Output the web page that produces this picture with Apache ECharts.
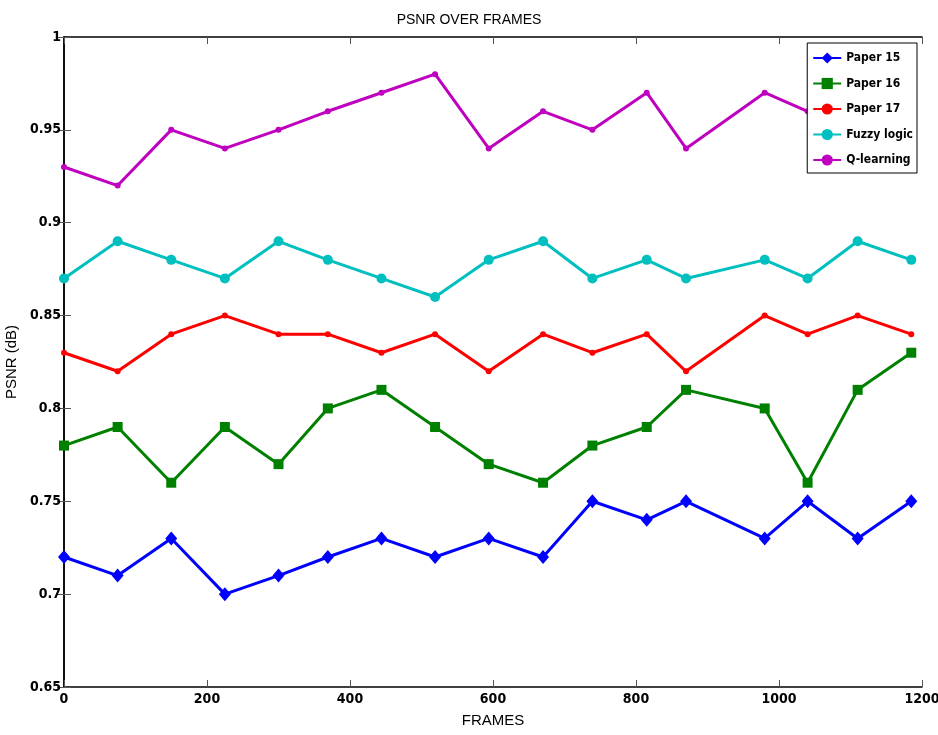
<!DOCTYPE html>
<html>
<head>
<meta charset="utf-8">
<script src="https://cdn.jsdelivr.net/npm/echarts@6/dist/echarts.min.js"></script>
<style>
  html, body { margin: 0; padding: 0; background: #fff; }
  #chart { width: 938px; height: 735px; }
</style>
</head>
<body>
<div id="chart"></div>
<script>
// Frame numbers at which PSNR was sampled
const frames = [0, 75, 150, 225, 300, 369, 444, 519, 594, 670, 739, 815, 870, 980, 1040, 1110, 1185];

const paper15   = [0.72, 0.71, 0.73, 0.70, 0.71, 0.72, 0.73, 0.72, 0.73, 0.72, 0.75, 0.74, 0.75, 0.73, 0.75, 0.73, 0.75];
const paper16   = [0.78, 0.79, 0.76, 0.79, 0.77, 0.80, 0.81, 0.79, 0.77, 0.76, 0.78, 0.79, 0.81, 0.80, 0.76, 0.81, 0.83];
const paper17   = [0.83, 0.82, 0.84, 0.85, 0.84, 0.84, 0.83, 0.84, 0.82, 0.84, 0.83, 0.84, 0.82, 0.85, 0.84, 0.85, 0.84];
const fuzzy     = [0.87, 0.89, 0.88, 0.87, 0.89, 0.88, 0.87, 0.86, 0.88, 0.89, 0.87, 0.88, 0.87, 0.88, 0.87, 0.89, 0.88];
const qlearning = [0.93, 0.92, 0.95, 0.94, 0.95, 0.96, 0.97, 0.98, 0.94, 0.96, 0.95, 0.97, 0.94, 0.97, 0.96, 0.97, 0.96];

const xTicks = [0, 200, 400, 600, 800, 1000, 1200];
const yTicks = [0.65, 0.7, 0.75, 0.8, 0.85, 0.9, 0.95, 1];

const narrow = '"Liberation Sans Narrow", "DejaVu Sans Condensed", "Arial Narrow", sans-serif';
const tickFont = { fontFamily: narrow, fontWeight: 'bold', fontSize: 14, color: '#000' };

function pairs(vals) { return frames.map((f, i) => [f, vals[i]]); }

function lineSeries(name, vals, color, symbol, size) {
  return {
    name: name,
    type: 'line',
    data: pairs(vals),
    symbol: symbol,
    symbolSize: size,
    showAllSymbol: true,
    lineStyle: { color: color, width: 3 },
    itemStyle: { color: color },
    emphasis: { disabled: true },
    animation: false
  };
}

const chart = echarts.init(document.getElementById('chart'), null, { renderer: 'canvas' });

const axisLineStyle = { lineStyle: { color: '#000', width: 1.5 } };
const innerTicks = { show: true, inside: true, length: 7, lineStyle: { color: '#555', width: 1 } };

chart.setOption({
  backgroundColor: '#fff',
  animation: false,
  title: {
    text: 'PSNR OVER FRAMES',
    left: 'center',
    top: 8,
    textStyle: { fontFamily: 'Liberation Sans', fontWeight: 'normal', fontSize: 14, color: '#000' }
  },
  legend: {
    orient: 'vertical',
    right: 21,
    top: 43,
    padding: [9, 4, 7, 5],
    itemWidth: 28,
    itemHeight: 14,
    itemGap: 13.5,
    borderColor: '#000',
    borderWidth: 1,
    backgroundColor: '#fff',
    textStyle: { fontFamily: narrow, fontWeight: 'bold', fontSize: 12, color: '#000' },
    data: ['Paper 15', 'Paper 16', 'Paper 17', 'Fuzzy logic', 'Q-learning']
  },
  grid: { left: 64, right: 16, top: 37, bottom: 48, containLabel: false, outerBoundsMode: 'none' },
  xAxis: [
    {
      type: 'value',
      min: 0, max: 1200, interval: 200,
      name: 'FRAMES',
      nameLocation: 'middle',
      nameGap: 26,
      nameTextStyle: { fontFamily: 'Liberation Sans', fontSize: 15, color: '#000' },
      axisLine: axisLineStyle,
      axisTick: innerTicks,
      axisLabel: Object.assign({ margin: 5, formatter: v => xTicks.includes(v) ? String(v) : '' }, tickFont),
      splitLine: { show: false }
    },
    {
      type: 'value', position: 'top',
      min: 0, max: 1200, interval: 200,
      axisLine: axisLineStyle,
      axisTick: innerTicks,
      axisLabel: { show: false },
      splitLine: { show: false }
    }
  ],
  yAxis: [
    {
      type: 'value',
      min: 0.65, max: 1, interval: 0.05,
      name: 'PSNR (dB)',
      nameLocation: 'middle',
      nameGap: 45,
      nameTextStyle: { fontFamily: 'Liberation Sans', fontSize: 15, color: '#000' },
      axisLine: axisLineStyle,
      axisTick: innerTicks,
      axisLabel: Object.assign({ margin: 3, formatter: v => {
        const t = yTicks.find(y => Math.abs(y - v) < 1e-6);
        return t === undefined ? '' : String(t);
      } }, tickFont),
      splitLine: { show: false }
    },
    {
      type: 'value', position: 'right',
      min: 0.65, max: 1, interval: 0.05,
      axisLine: axisLineStyle,
      axisTick: innerTicks,
      axisLabel: { show: false },
      splitLine: { show: false }
    }
  ],
  series: [
    lineSeries('Paper 15', paper15, '#0000ff', 'diamond', [12, 14]),
    lineSeries('Paper 16', paper16, '#008000', 'rect', 10),
    lineSeries('Paper 17', paper17, '#ff0000', 'circle', 6),
    lineSeries('Fuzzy logic', fuzzy, '#00bfbf', 'circle', 10),
    lineSeries('Q-learning', qlearning, '#bf00bf', 'circle', 6)
  ]
});
</script>
</body>
</html>
